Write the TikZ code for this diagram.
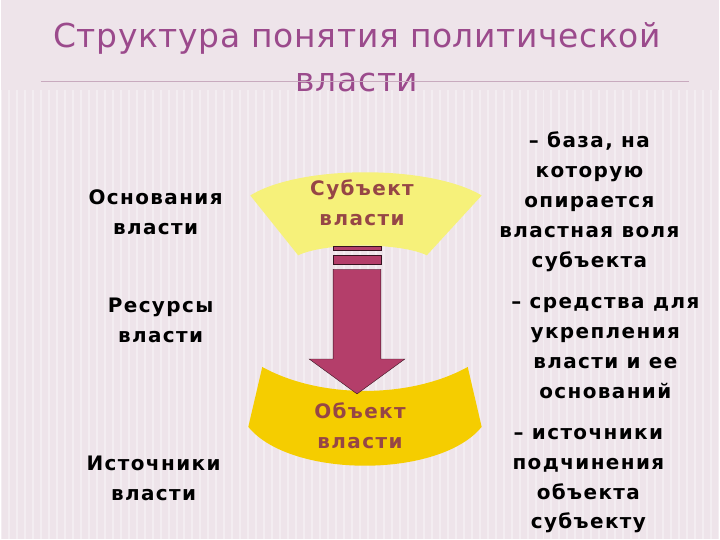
\documentclass[tikz,border=0pt]{standalone}
\usepackage{fontspec}
\setmainfont{DejaVu Sans}
\newfontfamily\wideb[LetterSpace=7]{DejaVu Sans}
\newfontfamily\widet[LetterSpace=2]{DejaVu Sans}
\definecolor{bg}{RGB}{238,228,234}
\definecolor{arr}{RGB}{180,62,106}
\definecolor{inner}{RGB}{150,70,70}
\definecolor{ttl}{RGB}{155,74,140}
\definecolor{rule}{RGB}{200,170,190}
\definecolor{ylight}{RGB}{246,241,122}
\definecolor{ydark}{RGB}{245,205,0}
\begin{document}
\begin{tikzpicture}[x=1pt,y=-1pt,
 lbl/.style={font=\wideb\bfseries\fontsize{20}{30}\selectfont,align=center,text=black},
 inl/.style={font=\wideb\bfseries\fontsize{20}{30}\selectfont,align=center,text=inner}]
\fill[bg] (0,0) rectangle (720,540);
\foreach \i in {0,8,...,720} \draw[white,opacity=0.35,line width=2pt] (\i,90) -- (\i,540);
\useasboundingbox (0,0) rectangle (720,540);
\node[font=\widet\fontsize{33}{44}\selectfont,align=center,text=ttl] (title) at (357,57) {Структура понятия политической\\власти};
\draw[rule,line width=0.8pt] (40,82) -- (690,82);
\fill[ylight] (250,196) .. controls (300,165) and (430,165) .. (482,196) -- (427,256) .. controls (400,243) and (325,243) .. (298,256) -- cycle;
\fill[ydark] (262,368) .. controls (320,400) and (410,400) .. (468,368) -- (482,428) .. controls (440,480) and (290,480) .. (248,428) -- cycle;
\draw[fill=arr,draw=black!70!arr] (333,247) rectangle (381,251);
\draw[fill=arr,draw=black!70!arr] (333,256) rectangle (381,265);
\draw[fill=arr,draw=black!70!arr] (333,270) -- (381,270) -- (381,360) -- (405,360) -- (357,395) -- (309,360) -- (333,360) -- cycle;
\node[inl] (subj) at (362,203) {Субъект\\власти};
\node[inl] (obj) at (360,427) {Объект\\власти};
\node[lbl] (a1) at (155,213) {Основания\\власти};
\node[lbl] (a2) at (160,321) {Ресурсы\\власти};
\node[lbl] (a3) at (153,480) {Источники\\власти};
\node[lbl] (b1) at (590,202) {– база, на\\которую\\опирается\\властная воля\\субъекта};
\node[lbl] (b2) at (606,349) {– средства для\\укрепления\\власти и ее\\оснований};
\node[lbl] (b3) at (589,482) {– источники\\подчинения\\объекта\\субъекту};
\end{tikzpicture}
\end{document}
